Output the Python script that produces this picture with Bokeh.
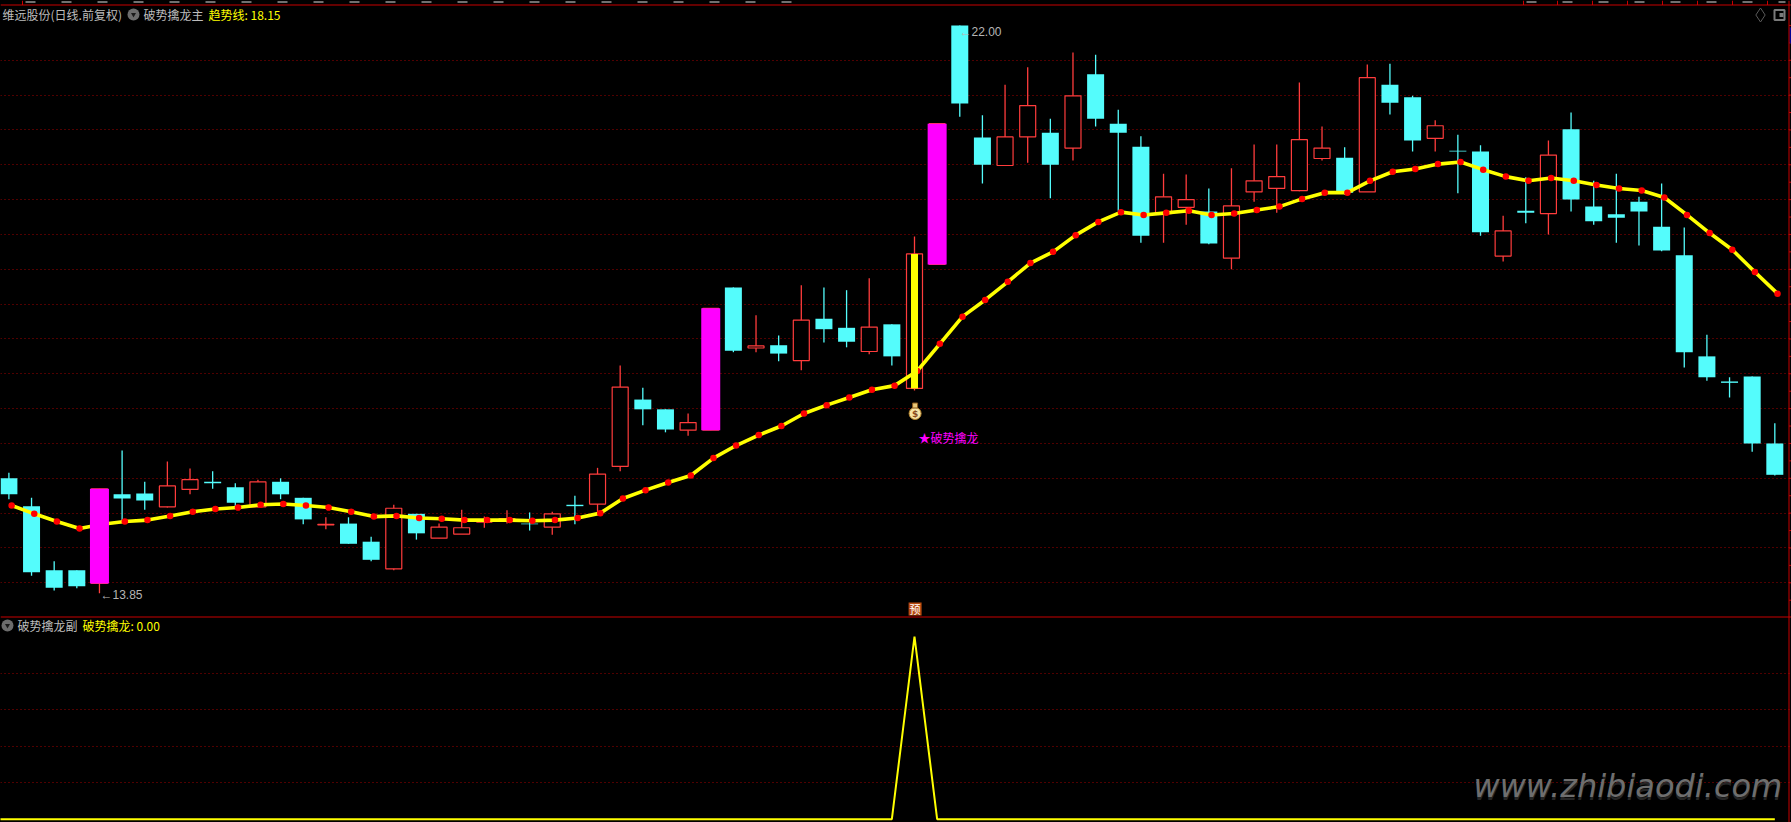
import numpy as np
from bokeh.plotting import figure
from bokeh.models import FixedTicker, Grid, Span, Range1d
from bokeh.core.properties import value
from bokeh.embed import file_html
from bokeh.resources import INLINE

high=[15.58,15.22,14.31,14.18,15.35,15.90,15.45,15.74,15.64,15.60,15.43,15.48,15.50,15.22,14.94,14.94,14.66,15.12,14.99,14.85,15.05,14.95,15.04,15.01,15.02,15.25,15.65,17.12,16.80,16.49,16.43,17.94,18.24,17.84,17.55,18.27,18.24,18.20,18.37,17.71,18.97,20.59,22.00,20.71,21.15,21.40,20.66,21.61,21.58,20.79,20.41,19.87,19.86,19.66,19.95,20.29,20.29,21.18,20.55,20.25,21.44,21.45,20.99,20.64,20.43,20.28,19.27,19.82,20.35,20.75,19.77,19.87,19.54,19.73,19.10,17.56,16.95,16.96,16.29]
body_top=[15.50,15.10,14.18,14.18,15.35,15.27,15.28,15.39,15.48,15.45,15.37,15.45,15.45,15.22,14.84,14.85,14.59,15.07,14.99,14.80,14.79,14.87,14.92,14.85,14.99,15.12,15.56,16.81,16.63,16.49,16.30,17.94,18.24,17.40,17.41,17.77,17.79,17.66,17.67,17.71,18.72,20.59,22.00,20.39,20.40,20.85,20.46,20.99,21.30,20.59,20.26,19.54,19.50,19.33,19.41,19.77,19.83,20.36,20.24,20.10,21.25,21.15,20.97,20.56,20.20,20.19,19.05,19.34,20.14,20.51,19.40,19.29,19.47,19.11,18.70,17.25,16.89,16.96,16.00]
body_bottom=[15.27,14.15,13.93,13.95,13.99,15.21,15.18,15.09,15.34,15.43,15.15,15.09,15.27,14.91,14.83,14.56,14.33,14.20,14.71,14.64,14.70,14.87,14.90,14.84,14.80,15.10,15.13,15.67,16.49,16.20,16.19,16.19,17.33,17.37,17.29,17.19,17.64,17.46,17.32,17.25,16.79,18.57,20.88,20.00,19.99,20.40,20.00,20.24,20.66,20.46,18.98,19.30,19.39,18.87,18.66,19.61,19.66,19.63,20.09,19.60,19.61,20.89,20.35,20.38,20.19,19.03,18.69,19.31,19.30,19.50,19.19,19.24,19.33,18.77,17.31,16.95,16.87,16.00,15.55]
low=[15.20,14.10,13.89,13.92,13.85,14.88,15.05,15.08,15.27,15.35,15.08,15.08,15.20,14.84,14.77,14.56,14.31,14.18,14.62,14.64,14.70,14.79,14.85,14.75,14.69,14.84,15.01,15.60,16.26,16.16,16.11,16.19,17.31,17.31,17.18,17.05,17.45,17.38,17.28,17.12,16.76,18.57,20.69,19.73,19.99,20.03,19.52,20.06,20.55,19.34,18.88,18.88,19.14,18.86,18.50,19.47,19.31,19.62,20.06,19.57,19.61,20.72,20.19,20.19,19.59,18.98,18.61,19.16,19.00,19.33,19.14,18.88,18.84,18.76,17.09,16.90,16.66,15.88,15.54]
trend=[15.11,14.99,14.88,14.78,14.84,14.88,14.90,14.96,15.02,15.06,15.08,15.12,15.13,15.11,15.08,15.02,14.95,14.96,14.93,14.92,14.90,14.90,14.90,14.89,14.90,14.93,15.00,15.21,15.33,15.44,15.54,15.79,15.97,16.12,16.25,16.43,16.55,16.66,16.77,16.83,17.04,17.43,17.82,18.06,18.32,18.59,18.75,18.99,19.18,19.32,19.28,19.31,19.34,19.28,19.30,19.35,19.40,19.51,19.60,19.60,19.77,19.90,19.94,20.01,20.04,19.93,19.83,19.77,19.81,19.77,19.71,19.66,19.63,19.53,19.28,19.02,18.78,18.46,18.15]
up_days=[4,7,8,11,14,17,19,20,21,22,24,26,27,30,31,33,35,38,40,41,44,45,47,51,52,54,55,56,57,58,60,63,66,68]
signal_days=[4,31,41]
breakout_day=40
sub_value=[0.0]*79
sub_value[40]=1.0
price_grid=[14+0.5*k for k in range(16)]
price_ticks=[13.75+0.25*k for k in range(34)]
sub_grid=[0.2,0.4,0.6,0.8]

W,H=1791,822
STEP=22.64; X0=8.4
PY0=582.3; PSCALE=69.67
X=lambda px:(px-X0)/STEP
Y=lambda py:14+(PY0-py)/PSCALE
SUB0=818.7; SUBSCALE=182.7

CYAN="#54FCFC"; RED="#FF3C3C"; MAG="#FF00FF"; YEL="#FFFF00"; GRID="#A00000"; SEP="#C80000"; GRAY="#BDBDBD"
CJK=value("Noto Sans CJK SC")

p=figure(width=W,height=H,output_backend="svg",toolbar_location=None,
         x_range=Range1d(X(0),X(W)),y_range=Range1d(Y(H),Y(0)),
         background_fill_color="#000000",border_fill_color="#000000",outline_line_color=None,
         min_border=0,x_axis_location=None,y_axis_location=None,styles={"background-color":"#000000"})
p.xgrid.visible=False; p.ygrid.visible=False
p.extra_y_ranges={"sub":Range1d((SUB0-H)/SUBSCALE,SUB0/SUBSCALE)}

g1=Grid(dimension=1,ticker=FixedTicker(ticks=price_grid),grid_line_color=GRID,grid_line_dash="1 3",grid_line_width=1)
g2=Grid(dimension=1,ticker=FixedTicker(ticks=sub_grid),grid_line_color=GRID,grid_line_dash="1 3",grid_line_width=1,y_range_name="sub")
p.add_layout(g1); p.add_layout(g2)

# right scale: rule and tick marks, no labels in the reference
p.add_layout(Span(location=X(1788.5),dimension="height",line_color=SEP,line_width=1))
p.segment([X(1788.5)]*len(price_ticks),price_ticks,[X(W)]*len(price_ticks),price_ticks,line_color=SEP,line_width=1)

xs=np.arange(79)
up=np.array([i in up_days for i in xs])
colors=[RED if u else CYAN for u in up]
p.segment(xs,low,xs,high,line_color=colors,line_width=1.3)
dn=~up
p.vbar(xs[dn],top=np.array(body_top)[dn],bottom=np.array(body_bottom)[dn],width=17/STEP,fill_color=CYAN,line_color=None)
p.vbar(xs[up],top=np.array(body_top)[up],bottom=np.array(body_bottom)[up],width=16/STEP,fill_color="#000000",line_color=RED,line_width=1.2)
p.line(xs+0.12,trend,line_color=YEL,line_width=3.6)
p.scatter(xs+0.12,trend,marker="circle",size=6.5,fill_color="#FF0000",line_color=None)
sd=np.array(signal_days)
p.vbar(sd,top=np.array(body_top)[sd],bottom=np.array(body_bottom)[sd],width=19/STEP,fill_color=MAG,line_color=None)
p.vbar([breakout_day],top=[body_top[breakout_day]],bottom=[body_bottom[breakout_day]],width=7/STEP,fill_color=YEL,line_color=None)

# sub panel
p.line(np.r_[-1,xs],[0.0]+sub_value,line_color=YEL,line_width=2,y_range_name="sub")

# separators
for py in (4.5,616.5):
    p.add_layout(Span(location=Y(py),dimension="width",line_color=SEP,line_width=1))
p.line([X(25),X(800)],[Y(1.5)]*2,line_color="#707070",line_width=2,line_dash="10 26")
p.line([X(1526),X(1785)],[Y(1.5)]*2,line_color="#707070",line_width=2,line_dash="10 26")
div_px=[22,1523,1557,1592,1627,1662,1697,1732,1767]
p.segment([X(a) for a in div_px],[Y(0)]*9,[X(a) for a in div_px],[Y(4.5)]*9,line_color=SEP,line_width=1)

def T(px,py,s,color=GRAY,size="12px",font=CJK,**kw):
    return p.text([X(px)],[Y(py)],text=[s],text_color=color,text_font=font,text_font_size=size,text_baseline="middle",**kw)

T(2,14,"维远股份(日线.前复权)")
T(143,14,"破势擒龙主")
T(208,14,"趋势线: 18.15",color=YEL)
T(17,625,"破势擒龙副")
T(82,625,"破势擒龙: 0.00",color=YEL)
for py,px in ((14,133),(625,7)):
    p.scatter([X(px)],[Y(py)],marker="circle",size=12,fill_color="#6C6C6C",line_color=None)
    p.scatter([X(px)],[Y(py)],marker="inverted_triangle",size=5,fill_color="#1a1a1a",line_color=None)

T(100,594.5,"←13.85",color="#B5B5B5",font=value("Liberation Sans"))
T(959,31,"←22.00",color="#B5B5B5",font=value("Liberation Sans"))
T(918,437,"★破势擒龙",color=MAG)

# money bag
bx=X(914.6)
p.scatter([bx],[Y(413)],marker="circle",size=12,fill_color="#F6E3A6",line_color="#B8862C",line_width=1)
p.scatter([bx],[Y(405)],marker="square",size=5,fill_color="#E9C878",line_color="#8A5A1C",line_width=1)
p.text([bx],[Y(413)],text=["$"],text_color="#8A4A20",text_font=value("DejaVu Sans"),text_font_size="9px",text_font_style="bold",text_align="center",text_baseline="middle")

# 预 tag
p.rect([bx],[Y(608.5)],width=13/STEP,height=13/PSCALE,fill_color="#B84A10",line_color=None)
p.text([bx],[Y(608)],text=["预"],text_color="#FFFFFF",text_font=CJK,text_font_size="11px",text_align="center",text_baseline="middle")

# corner icons
p.scatter([X(1760)],[Y(14.5)],marker="diamond",size=14,fill_color=None,line_color="#5A5A5A",line_width=1)
p.scatter([X(1779)],[Y(14.5)],marker="square",size=10,fill_color="#000000",line_color="#7A7A7A",line_width=2)
p.scatter([X(1781)],[Y(14.5)],marker="square",size=4,fill_color="#7A7A7A",line_color=None)
p.quad(left=[X(1789)],right=[X(W)],top=[Y(27)],bottom=[Y(43)],fill_color="#000090",line_color=None)

# watermark
for dy,col,alpha in ((3,"#303030",0.8),(0,"#6E6E6E",1.0)):
    p.text([X(1473)],[Y(785+dy)],text=["www.zhibiaodi.com"],text_color=col,text_alpha=alpha,text_font=value("DejaVu Sans"),
           text_font_style="italic",text_font_size="32px",text_baseline="middle")

open("out.html","w").write(file_html(p,INLINE))
